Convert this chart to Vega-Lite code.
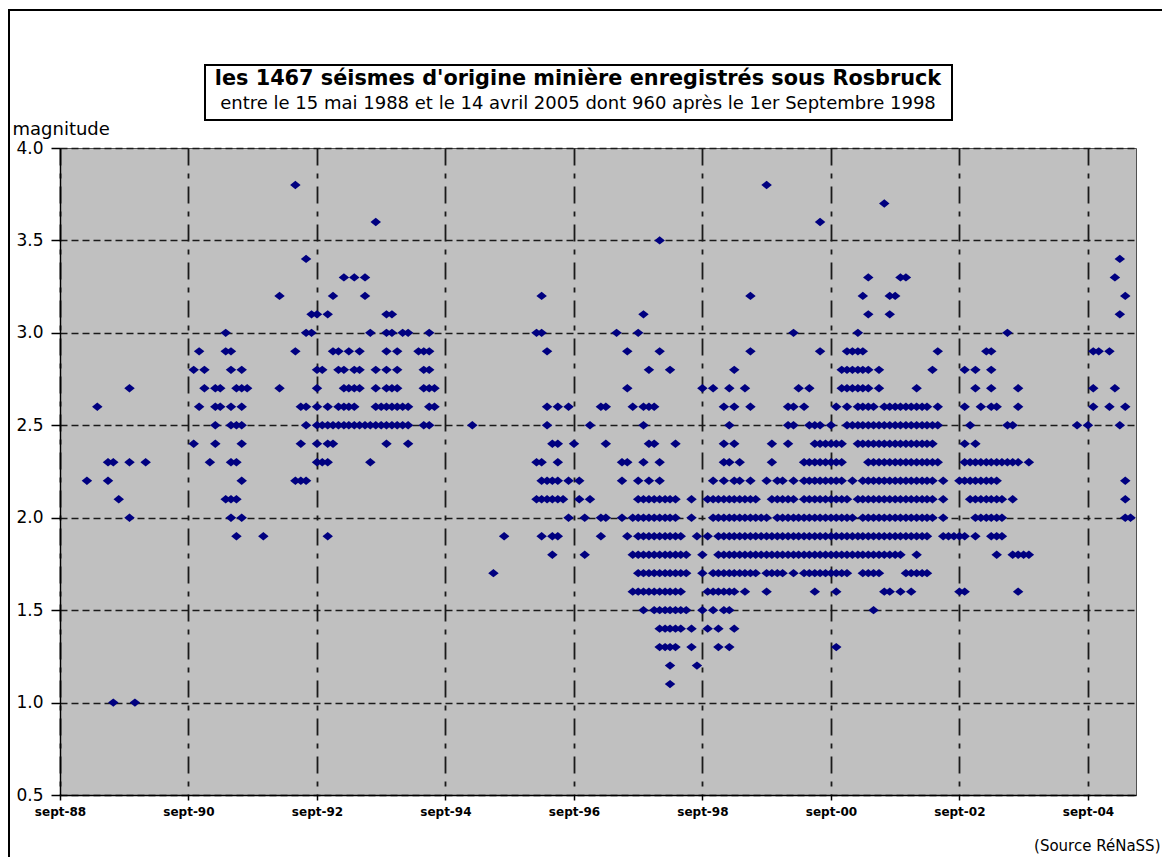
{
  "$schema": "https://vega.github.io/schema/vega-lite/v6.json",
  "width": 1076,
  "height": 647,
  "autosize": {"type": "none"},
  "padding": {"left": 60, "top": 148, "right": 26, "bottom": 62},
  "background": "white",
  "title": {
    "text": "les 1467  séismes d'origine minière  enregistrés sous Rosbruck",
    "subtitle": "entre le 15 mai 1988 et le 14 avril 2005   dont 960 après le 1er Septembre 1998",
    "anchor": "middle",
    "frame": "group",
    "orient": "top",
    "font": "DejaVu Sans",
    "fontSize": 20.8,
    "fontWeight": "bold",
    "color": "black",
    "subtitleFont": "DejaVu Sans",
    "subtitleFontSize": 18,
    "subtitleColor": "black",
    "subtitlePadding": 6,
    "offset": -105,
    "dx": -20
  },
  "data": {"values": [
{"date":"1992-05","mag":3.8},{"date":"1999-09","mag":3.8},
{"date":"2001-07","mag":3.7},
{"date":"1993-08","mag":3.6},{"date":"2000-07","mag":3.6},
{"date":"1998-01","mag":3.5},
{"date":"1992-07","mag":3.4},{"date":"2005-03","mag":3.4},
{"date":"1993-02","mag":3.3},{"date":"1993-04","mag":3.3},{"date":"1993-06","mag":3.3},{"date":"2001-04","mag":3.3},{"date":"2001-10","mag":3.3},{"date":"2001-11","mag":3.3},{"date":"2005-02","mag":3.3},
{"date":"1992-02","mag":3.2},{"date":"1992-12","mag":3.2},{"date":"1993-06","mag":3.2},{"date":"1996-03","mag":3.2},{"date":"1999-06","mag":3.2},{"date":"2001-03","mag":3.2},{"date":"2001-08","mag":3.2},{"date":"2001-09","mag":3.2},{"date":"2005-04","mag":3.2},
{"date":"1992-08","mag":3.1},{"date":"1992-09","mag":3.1},{"date":"1992-11","mag":3.1},{"date":"1993-10","mag":3.1},{"date":"1993-11","mag":3.1},{"date":"1997-10","mag":3.1},{"date":"2001-04","mag":3.1},{"date":"2001-08","mag":3.1},{"date":"2005-03","mag":3.1},
{"date":"1991-04","mag":3.0},{"date":"1992-07","mag":3.0},{"date":"1992-08","mag":3.0},{"date":"1993-07","mag":3.0},{"date":"1993-10","mag":3.0},{"date":"1993-11","mag":3.0},{"date":"1994-01","mag":3.0},{"date":"1994-02","mag":3.0},{"date":"1994-06","mag":3.0},{"date":"1996-02","mag":3.0},{"date":"1996-03","mag":3.0},{"date":"1997-05","mag":3.0},{"date":"1997-09","mag":3.0},{"date":"2000-02","mag":3.0},{"date":"2001-02","mag":3.0},{"date":"2003-06","mag":3.0},
{"date":"1990-11","mag":2.9},{"date":"1991-04","mag":2.9},{"date":"1991-05","mag":2.9},{"date":"1992-05","mag":2.9},{"date":"1992-12","mag":2.9},{"date":"1993-01","mag":2.9},{"date":"1993-03","mag":2.9},{"date":"1993-05","mag":2.9},{"date":"1993-10","mag":2.9},{"date":"1993-12","mag":2.9},{"date":"1994-04","mag":2.9},{"date":"1994-05","mag":2.9},{"date":"1994-06","mag":2.9},{"date":"1996-04","mag":2.9},{"date":"1997-07","mag":2.9},{"date":"1998-01","mag":2.9},{"date":"1999-06","mag":2.9},{"date":"2000-07","mag":2.9},{"date":"2000-12","mag":2.9},{"date":"2001-01","mag":2.9},{"date":"2001-02","mag":2.9},{"date":"2001-03","mag":2.9},{"date":"2002-05","mag":2.9},{"date":"2003-02","mag":2.9},{"date":"2003-03","mag":2.9},{"date":"2004-10","mag":2.9},{"date":"2004-11","mag":2.9},{"date":"2005-01","mag":2.9},
{"date":"1990-10","mag":2.8},{"date":"1990-12","mag":2.8},{"date":"1991-05","mag":2.8},{"date":"1991-07","mag":2.8},{"date":"1992-09","mag":2.8},{"date":"1992-10","mag":2.8},{"date":"1993-01","mag":2.8},{"date":"1993-02","mag":2.8},{"date":"1993-04","mag":2.8},{"date":"1993-05","mag":2.8},{"date":"1993-08","mag":2.8},{"date":"1993-10","mag":2.8},{"date":"1993-12","mag":2.8},{"date":"1994-05","mag":2.8},{"date":"1994-06","mag":2.8},{"date":"1997-11","mag":2.8},{"date":"1998-03","mag":2.8},{"date":"1999-03","mag":2.8},{"date":"2000-11","mag":2.8},{"date":"2000-12","mag":2.8},{"date":"2001-01","mag":2.8},{"date":"2001-02","mag":2.8},{"date":"2001-03","mag":2.8},{"date":"2001-04","mag":2.8},{"date":"2001-06","mag":2.8},{"date":"2002-04","mag":2.8},{"date":"2002-10","mag":2.8},{"date":"2002-12","mag":2.8},{"date":"2003-03","mag":2.8},
{"date":"1989-10","mag":2.7},{"date":"1990-12","mag":2.7},{"date":"1991-02","mag":2.7},{"date":"1991-03","mag":2.7},{"date":"1991-06","mag":2.7},{"date":"1991-07","mag":2.7},{"date":"1991-08","mag":2.7},{"date":"1992-02","mag":2.7},{"date":"1992-09","mag":2.7},{"date":"1993-02","mag":2.7},{"date":"1993-03","mag":2.7},{"date":"1993-04","mag":2.7},{"date":"1993-05","mag":2.7},{"date":"1993-08","mag":2.7},{"date":"1993-10","mag":2.7},{"date":"1993-11","mag":2.7},{"date":"1993-12","mag":2.7},{"date":"1994-05","mag":2.7},{"date":"1994-06","mag":2.7},{"date":"1994-07","mag":2.7},{"date":"1997-07","mag":2.7},{"date":"1998-09","mag":2.7},{"date":"1998-11","mag":2.7},{"date":"1999-02","mag":2.7},{"date":"1999-05","mag":2.7},{"date":"2000-03","mag":2.7},{"date":"2000-05","mag":2.7},{"date":"2000-11","mag":2.7},{"date":"2000-12","mag":2.7},{"date":"2001-01","mag":2.7},{"date":"2001-02","mag":2.7},{"date":"2001-03","mag":2.7},{"date":"2001-04","mag":2.7},{"date":"2001-06","mag":2.7},{"date":"2002-01","mag":2.7},{"date":"2002-12","mag":2.7},{"date":"2003-03","mag":2.7},{"date":"2003-08","mag":2.7},{"date":"2004-10","mag":2.7},{"date":"2005-02","mag":2.7},
{"date":"1989-04","mag":2.6},{"date":"1990-11","mag":2.6},{"date":"1991-02","mag":2.6},{"date":"1991-03","mag":2.6},{"date":"1991-05","mag":2.6},{"date":"1991-07","mag":2.6},{"date":"1992-06","mag":2.6},{"date":"1992-07","mag":2.6},{"date":"1992-09","mag":2.6},{"date":"1992-11","mag":2.6},{"date":"1993-01","mag":2.6},{"date":"1993-02","mag":2.6},{"date":"1993-03","mag":2.6},{"date":"1993-04","mag":2.6},{"date":"1993-08","mag":2.6},{"date":"1993-09","mag":2.6},{"date":"1993-10","mag":2.6},{"date":"1993-11","mag":2.6},{"date":"1993-12","mag":2.6},{"date":"1994-01","mag":2.6},{"date":"1994-02","mag":2.6},{"date":"1994-06","mag":2.6},{"date":"1994-07","mag":2.6},{"date":"1996-04","mag":2.6},{"date":"1996-06","mag":2.6},{"date":"1996-08","mag":2.6},{"date":"1997-02","mag":2.6},{"date":"1997-03","mag":2.6},{"date":"1997-08","mag":2.6},{"date":"1997-10","mag":2.6},{"date":"1997-11","mag":2.6},{"date":"1997-12","mag":2.6},{"date":"1999-01","mag":2.6},{"date":"1999-03","mag":2.6},{"date":"1999-06","mag":2.6},{"date":"2000-01","mag":2.6},{"date":"2000-02","mag":2.6},{"date":"2000-04","mag":2.6},{"date":"2000-10","mag":2.6},{"date":"2000-12","mag":2.6},{"date":"2001-02","mag":2.6},{"date":"2001-03","mag":2.6},{"date":"2001-04","mag":2.6},{"date":"2001-05","mag":2.6},{"date":"2001-07","mag":2.6},{"date":"2001-08","mag":2.6},{"date":"2001-09","mag":2.6},{"date":"2001-10","mag":2.6},{"date":"2001-11","mag":2.6},{"date":"2001-12","mag":2.6},{"date":"2002-01","mag":2.6},{"date":"2002-02","mag":2.6},{"date":"2002-03","mag":2.6},{"date":"2002-05","mag":2.6},{"date":"2002-10","mag":2.6},{"date":"2003-01","mag":2.6},{"date":"2003-03","mag":2.6},{"date":"2003-04","mag":2.6},{"date":"2003-08","mag":2.6},{"date":"2004-10","mag":2.6},{"date":"2005-01","mag":2.6},{"date":"2005-04","mag":2.6},
{"date":"1991-02","mag":2.5},{"date":"1991-05","mag":2.5},{"date":"1991-06","mag":2.5},{"date":"1991-07","mag":2.5},{"date":"1992-07","mag":2.5},{"date":"1992-09","mag":2.5},{"date":"1992-10","mag":2.5},{"date":"1992-11","mag":2.5},{"date":"1992-12","mag":2.5},{"date":"1993-01","mag":2.5},{"date":"1993-02","mag":2.5},{"date":"1993-03","mag":2.5},{"date":"1993-04","mag":2.5},{"date":"1993-05","mag":2.5},{"date":"1993-06","mag":2.5},{"date":"1993-07","mag":2.5},{"date":"1993-08","mag":2.5},{"date":"1993-09","mag":2.5},{"date":"1993-10","mag":2.5},{"date":"1993-11","mag":2.5},{"date":"1993-12","mag":2.5},{"date":"1994-01","mag":2.5},{"date":"1994-02","mag":2.5},{"date":"1994-05","mag":2.5},{"date":"1994-06","mag":2.5},{"date":"1995-02","mag":2.5},{"date":"1996-04","mag":2.5},{"date":"1996-12","mag":2.5},{"date":"1997-10","mag":2.5},{"date":"1999-02","mag":2.5},{"date":"2000-01","mag":2.5},{"date":"2000-02","mag":2.5},{"date":"2000-05","mag":2.5},{"date":"2000-06","mag":2.5},{"date":"2000-07","mag":2.5},{"date":"2000-09","mag":2.5},{"date":"2000-12","mag":2.5},{"date":"2001-01","mag":2.5},{"date":"2001-02","mag":2.5},{"date":"2001-03","mag":2.5},{"date":"2001-04","mag":2.5},{"date":"2001-05","mag":2.5},{"date":"2001-06","mag":2.5},{"date":"2001-07","mag":2.5},{"date":"2001-08","mag":2.5},{"date":"2001-09","mag":2.5},{"date":"2001-10","mag":2.5},{"date":"2001-11","mag":2.5},{"date":"2001-12","mag":2.5},{"date":"2002-01","mag":2.5},{"date":"2002-02","mag":2.5},{"date":"2002-03","mag":2.5},{"date":"2002-04","mag":2.5},{"date":"2002-05","mag":2.5},{"date":"2002-11","mag":2.5},{"date":"2003-06","mag":2.5},{"date":"2003-07","mag":2.5},{"date":"2004-07","mag":2.5},{"date":"2004-09","mag":2.5},{"date":"2005-03","mag":2.5},
{"date":"1990-10","mag":2.4},{"date":"1991-02","mag":2.4},{"date":"1991-07","mag":2.4},{"date":"1992-06","mag":2.4},{"date":"1992-09","mag":2.4},{"date":"1992-11","mag":2.4},{"date":"1992-12","mag":2.4},{"date":"1993-10","mag":2.4},{"date":"1994-02","mag":2.4},{"date":"1996-05","mag":2.4},{"date":"1996-06","mag":2.4},{"date":"1996-09","mag":2.4},{"date":"1997-03","mag":2.4},{"date":"1997-11","mag":2.4},{"date":"1997-12","mag":2.4},{"date":"1998-04","mag":2.4},{"date":"1999-01","mag":2.4},{"date":"1999-03","mag":2.4},{"date":"1999-10","mag":2.4},{"date":"2000-01","mag":2.4},{"date":"2000-06","mag":2.4},{"date":"2000-07","mag":2.4},{"date":"2000-08","mag":2.4},{"date":"2000-09","mag":2.4},{"date":"2000-10","mag":2.4},{"date":"2000-11","mag":2.4},{"date":"2001-02","mag":2.4},{"date":"2001-03","mag":2.4},{"date":"2001-04","mag":2.4},{"date":"2001-05","mag":2.4},{"date":"2001-06","mag":2.4},{"date":"2001-07","mag":2.4},{"date":"2001-08","mag":2.4},{"date":"2001-09","mag":2.4},{"date":"2001-10","mag":2.4},{"date":"2001-11","mag":2.4},{"date":"2001-12","mag":2.4},{"date":"2002-01","mag":2.4},{"date":"2002-02","mag":2.4},{"date":"2002-03","mag":2.4},{"date":"2002-04","mag":2.4},{"date":"2002-10","mag":2.4},{"date":"2002-12","mag":2.4},
{"date":"1989-06","mag":2.3},{"date":"1989-07","mag":2.3},{"date":"1989-10","mag":2.3},{"date":"1990-01","mag":2.3},{"date":"1991-01","mag":2.3},{"date":"1991-05","mag":2.3},{"date":"1991-06","mag":2.3},{"date":"1992-09","mag":2.3},{"date":"1992-10","mag":2.3},{"date":"1992-11","mag":2.3},{"date":"1993-07","mag":2.3},{"date":"1996-02","mag":2.3},{"date":"1996-03","mag":2.3},{"date":"1996-06","mag":2.3},{"date":"1997-06","mag":2.3},{"date":"1997-07","mag":2.3},{"date":"1997-10","mag":2.3},{"date":"1998-01","mag":2.3},{"date":"1999-01","mag":2.3},{"date":"1999-02","mag":2.3},{"date":"1999-04","mag":2.3},{"date":"1999-10","mag":2.3},{"date":"2000-04","mag":2.3},{"date":"2000-05","mag":2.3},{"date":"2000-06","mag":2.3},{"date":"2000-07","mag":2.3},{"date":"2000-08","mag":2.3},{"date":"2000-09","mag":2.3},{"date":"2000-10","mag":2.3},{"date":"2000-11","mag":2.3},{"date":"2001-04","mag":2.3},{"date":"2001-05","mag":2.3},{"date":"2001-06","mag":2.3},{"date":"2001-07","mag":2.3},{"date":"2001-08","mag":2.3},{"date":"2001-09","mag":2.3},{"date":"2001-10","mag":2.3},{"date":"2001-11","mag":2.3},{"date":"2001-12","mag":2.3},{"date":"2002-01","mag":2.3},{"date":"2002-02","mag":2.3},{"date":"2002-03","mag":2.3},{"date":"2002-04","mag":2.3},{"date":"2002-05","mag":2.3},{"date":"2002-10","mag":2.3},{"date":"2002-11","mag":2.3},{"date":"2002-12","mag":2.3},{"date":"2003-01","mag":2.3},{"date":"2003-02","mag":2.3},{"date":"2003-03","mag":2.3},{"date":"2003-04","mag":2.3},{"date":"2003-05","mag":2.3},{"date":"2003-06","mag":2.3},{"date":"2003-07","mag":2.3},{"date":"2003-08","mag":2.3},{"date":"2003-10","mag":2.3},
{"date":"1989-02","mag":2.2},{"date":"1989-06","mag":2.2},{"date":"1991-07","mag":2.2},{"date":"1992-05","mag":2.2},{"date":"1992-06","mag":2.2},{"date":"1992-07","mag":2.2},{"date":"1996-03","mag":2.2},{"date":"1996-04","mag":2.2},{"date":"1996-05","mag":2.2},{"date":"1996-06","mag":2.2},{"date":"1996-08","mag":2.2},{"date":"1996-10","mag":2.2},{"date":"1997-06","mag":2.2},{"date":"1997-09","mag":2.2},{"date":"1997-11","mag":2.2},{"date":"1998-01","mag":2.2},{"date":"1998-11","mag":2.2},{"date":"1999-01","mag":2.2},{"date":"1999-03","mag":2.2},{"date":"1999-04","mag":2.2},{"date":"1999-06","mag":2.2},{"date":"1999-09","mag":2.2},{"date":"1999-11","mag":2.2},{"date":"1999-12","mag":2.2},{"date":"2000-02","mag":2.2},{"date":"2000-04","mag":2.2},{"date":"2000-05","mag":2.2},{"date":"2000-06","mag":2.2},{"date":"2000-07","mag":2.2},{"date":"2000-08","mag":2.2},{"date":"2000-09","mag":2.2},{"date":"2000-10","mag":2.2},{"date":"2000-11","mag":2.2},{"date":"2001-01","mag":2.2},{"date":"2001-03","mag":2.2},{"date":"2001-04","mag":2.2},{"date":"2001-05","mag":2.2},{"date":"2001-06","mag":2.2},{"date":"2001-07","mag":2.2},{"date":"2001-08","mag":2.2},{"date":"2001-09","mag":2.2},{"date":"2001-10","mag":2.2},{"date":"2001-11","mag":2.2},{"date":"2001-12","mag":2.2},{"date":"2002-01","mag":2.2},{"date":"2002-02","mag":2.2},{"date":"2002-03","mag":2.2},{"date":"2002-04","mag":2.2},{"date":"2002-06","mag":2.2},{"date":"2002-09","mag":2.2},{"date":"2002-10","mag":2.2},{"date":"2002-11","mag":2.2},{"date":"2002-12","mag":2.2},{"date":"2003-01","mag":2.2},{"date":"2003-02","mag":2.2},{"date":"2003-03","mag":2.2},{"date":"2003-04","mag":2.2},{"date":"2005-04","mag":2.2},
{"date":"1989-08","mag":2.1},{"date":"1991-04","mag":2.1},{"date":"1991-05","mag":2.1},{"date":"1991-06","mag":2.1},{"date":"1996-02","mag":2.1},{"date":"1996-03","mag":2.1},{"date":"1996-04","mag":2.1},{"date":"1996-05","mag":2.1},{"date":"1996-06","mag":2.1},{"date":"1996-07","mag":2.1},{"date":"1996-10","mag":2.1},{"date":"1996-12","mag":2.1},{"date":"1997-09","mag":2.1},{"date":"1997-10","mag":2.1},{"date":"1997-11","mag":2.1},{"date":"1997-12","mag":2.1},{"date":"1998-01","mag":2.1},{"date":"1998-02","mag":2.1},{"date":"1998-03","mag":2.1},{"date":"1998-04","mag":2.1},{"date":"1998-07","mag":2.1},{"date":"1998-10","mag":2.1},{"date":"1998-11","mag":2.1},{"date":"1998-12","mag":2.1},{"date":"1999-01","mag":2.1},{"date":"1999-02","mag":2.1},{"date":"1999-03","mag":2.1},{"date":"1999-04","mag":2.1},{"date":"1999-05","mag":2.1},{"date":"1999-06","mag":2.1},{"date":"1999-07","mag":2.1},{"date":"1999-10","mag":2.1},{"date":"1999-11","mag":2.1},{"date":"1999-12","mag":2.1},{"date":"2000-01","mag":2.1},{"date":"2000-02","mag":2.1},{"date":"2000-04","mag":2.1},{"date":"2000-05","mag":2.1},{"date":"2000-06","mag":2.1},{"date":"2000-07","mag":2.1},{"date":"2000-08","mag":2.1},{"date":"2000-09","mag":2.1},{"date":"2000-10","mag":2.1},{"date":"2000-11","mag":2.1},{"date":"2000-12","mag":2.1},{"date":"2001-02","mag":2.1},{"date":"2001-03","mag":2.1},{"date":"2001-04","mag":2.1},{"date":"2001-05","mag":2.1},{"date":"2001-06","mag":2.1},{"date":"2001-07","mag":2.1},{"date":"2001-08","mag":2.1},{"date":"2001-09","mag":2.1},{"date":"2001-10","mag":2.1},{"date":"2001-11","mag":2.1},{"date":"2001-12","mag":2.1},{"date":"2002-01","mag":2.1},{"date":"2002-02","mag":2.1},{"date":"2002-03","mag":2.1},{"date":"2002-04","mag":2.1},{"date":"2002-06","mag":2.1},{"date":"2002-11","mag":2.1},{"date":"2002-12","mag":2.1},{"date":"2003-01","mag":2.1},{"date":"2003-02","mag":2.1},{"date":"2003-03","mag":2.1},{"date":"2003-04","mag":2.1},{"date":"2003-05","mag":2.1},{"date":"2003-07","mag":2.1},{"date":"2005-04","mag":2.1},
{"date":"1989-10","mag":2.0},{"date":"1991-05","mag":2.0},{"date":"1991-07","mag":2.0},{"date":"1996-08","mag":2.0},{"date":"1996-11","mag":2.0},{"date":"1997-02","mag":2.0},{"date":"1997-03","mag":2.0},{"date":"1997-06","mag":2.0},{"date":"1997-08","mag":2.0},{"date":"1997-09","mag":2.0},{"date":"1997-10","mag":2.0},{"date":"1997-11","mag":2.0},{"date":"1997-12","mag":2.0},{"date":"1998-01","mag":2.0},{"date":"1998-02","mag":2.0},{"date":"1998-03","mag":2.0},{"date":"1998-04","mag":2.0},{"date":"1998-07","mag":2.0},{"date":"1998-11","mag":2.0},{"date":"1998-12","mag":2.0},{"date":"1999-01","mag":2.0},{"date":"1999-02","mag":2.0},{"date":"1999-03","mag":2.0},{"date":"1999-04","mag":2.0},{"date":"1999-05","mag":2.0},{"date":"1999-06","mag":2.0},{"date":"1999-07","mag":2.0},{"date":"1999-08","mag":2.0},{"date":"1999-09","mag":2.0},{"date":"1999-11","mag":2.0},{"date":"1999-12","mag":2.0},{"date":"2000-01","mag":2.0},{"date":"2000-02","mag":2.0},{"date":"2000-03","mag":2.0},{"date":"2000-04","mag":2.0},{"date":"2000-05","mag":2.0},{"date":"2000-06","mag":2.0},{"date":"2000-07","mag":2.0},{"date":"2000-08","mag":2.0},{"date":"2000-09","mag":2.0},{"date":"2000-10","mag":2.0},{"date":"2000-11","mag":2.0},{"date":"2000-12","mag":2.0},{"date":"2001-01","mag":2.0},{"date":"2001-03","mag":2.0},{"date":"2001-04","mag":2.0},{"date":"2001-05","mag":2.0},{"date":"2001-06","mag":2.0},{"date":"2001-07","mag":2.0},{"date":"2001-08","mag":2.0},{"date":"2001-09","mag":2.0},{"date":"2001-10","mag":2.0},{"date":"2001-11","mag":2.0},{"date":"2001-12","mag":2.0},{"date":"2002-01","mag":2.0},{"date":"2002-02","mag":2.0},{"date":"2002-03","mag":2.0},{"date":"2002-04","mag":2.0},{"date":"2002-06","mag":2.0},{"date":"2002-12","mag":2.0},{"date":"2003-01","mag":2.0},{"date":"2003-02","mag":2.0},{"date":"2003-03","mag":2.0},{"date":"2003-04","mag":2.0},{"date":"2003-05","mag":2.0},{"date":"2005-04","mag":2.0},{"date":"2005-05","mag":2.0},
{"date":"1991-06","mag":1.9},{"date":"1991-11","mag":1.9},{"date":"1992-11","mag":1.9},{"date":"1995-08","mag":1.9},{"date":"1996-03","mag":1.9},{"date":"1996-05","mag":1.9},{"date":"1996-06","mag":1.9},{"date":"1997-02","mag":1.9},{"date":"1997-07","mag":1.9},{"date":"1997-09","mag":1.9},{"date":"1997-10","mag":1.9},{"date":"1997-11","mag":1.9},{"date":"1997-12","mag":1.9},{"date":"1998-01","mag":1.9},{"date":"1998-02","mag":1.9},{"date":"1998-03","mag":1.9},{"date":"1998-04","mag":1.9},{"date":"1998-05","mag":1.9},{"date":"1998-08","mag":1.9},{"date":"1998-10","mag":1.9},{"date":"1998-12","mag":1.9},{"date":"1999-01","mag":1.9},{"date":"1999-02","mag":1.9},{"date":"1999-03","mag":1.9},{"date":"1999-04","mag":1.9},{"date":"1999-05","mag":1.9},{"date":"1999-06","mag":1.9},{"date":"1999-07","mag":1.9},{"date":"1999-08","mag":1.9},{"date":"1999-09","mag":1.9},{"date":"1999-10","mag":1.9},{"date":"1999-11","mag":1.9},{"date":"1999-12","mag":1.9},{"date":"2000-01","mag":1.9},{"date":"2000-02","mag":1.9},{"date":"2000-03","mag":1.9},{"date":"2000-04","mag":1.9},{"date":"2000-05","mag":1.9},{"date":"2000-06","mag":1.9},{"date":"2000-07","mag":1.9},{"date":"2000-08","mag":1.9},{"date":"2000-09","mag":1.9},{"date":"2000-10","mag":1.9},{"date":"2000-11","mag":1.9},{"date":"2000-12","mag":1.9},{"date":"2001-01","mag":1.9},{"date":"2001-02","mag":1.9},{"date":"2001-03","mag":1.9},{"date":"2001-04","mag":1.9},{"date":"2001-05","mag":1.9},{"date":"2001-06","mag":1.9},{"date":"2001-07","mag":1.9},{"date":"2001-08","mag":1.9},{"date":"2001-09","mag":1.9},{"date":"2001-10","mag":1.9},{"date":"2001-11","mag":1.9},{"date":"2001-12","mag":1.9},{"date":"2002-01","mag":1.9},{"date":"2002-02","mag":1.9},{"date":"2002-03","mag":1.9},{"date":"2002-06","mag":1.9},{"date":"2002-07","mag":1.9},{"date":"2002-08","mag":1.9},{"date":"2002-09","mag":1.9},{"date":"2002-10","mag":1.9},{"date":"2002-12","mag":1.9},{"date":"2003-03","mag":1.9},{"date":"2003-04","mag":1.9},{"date":"2003-05","mag":1.9},
{"date":"1996-05","mag":1.8},{"date":"1996-11","mag":1.8},{"date":"1997-08","mag":1.8},{"date":"1997-09","mag":1.8},{"date":"1997-10","mag":1.8},{"date":"1997-11","mag":1.8},{"date":"1997-12","mag":1.8},{"date":"1998-01","mag":1.8},{"date":"1998-02","mag":1.8},{"date":"1998-03","mag":1.8},{"date":"1998-04","mag":1.8},{"date":"1998-05","mag":1.8},{"date":"1998-06","mag":1.8},{"date":"1998-09","mag":1.8},{"date":"1998-12","mag":1.8},{"date":"1999-01","mag":1.8},{"date":"1999-02","mag":1.8},{"date":"1999-03","mag":1.8},{"date":"1999-04","mag":1.8},{"date":"1999-05","mag":1.8},{"date":"1999-06","mag":1.8},{"date":"1999-07","mag":1.8},{"date":"1999-08","mag":1.8},{"date":"1999-09","mag":1.8},{"date":"1999-10","mag":1.8},{"date":"1999-11","mag":1.8},{"date":"1999-12","mag":1.8},{"date":"2000-01","mag":1.8},{"date":"2000-02","mag":1.8},{"date":"2000-03","mag":1.8},{"date":"2000-04","mag":1.8},{"date":"2000-05","mag":1.8},{"date":"2000-06","mag":1.8},{"date":"2000-07","mag":1.8},{"date":"2000-08","mag":1.8},{"date":"2000-09","mag":1.8},{"date":"2000-10","mag":1.8},{"date":"2000-11","mag":1.8},{"date":"2000-12","mag":1.8},{"date":"2001-01","mag":1.8},{"date":"2001-02","mag":1.8},{"date":"2001-03","mag":1.8},{"date":"2001-04","mag":1.8},{"date":"2001-05","mag":1.8},{"date":"2001-06","mag":1.8},{"date":"2001-07","mag":1.8},{"date":"2001-08","mag":1.8},{"date":"2001-09","mag":1.8},{"date":"2001-10","mag":1.8},{"date":"2002-01","mag":1.8},{"date":"2003-04","mag":1.8},{"date":"2003-07","mag":1.8},{"date":"2003-08","mag":1.8},{"date":"2003-09","mag":1.8},{"date":"2003-10","mag":1.8},
{"date":"1995-06","mag":1.7},{"date":"1997-09","mag":1.7},{"date":"1997-10","mag":1.7},{"date":"1997-11","mag":1.7},{"date":"1997-12","mag":1.7},{"date":"1998-01","mag":1.7},{"date":"1998-02","mag":1.7},{"date":"1998-03","mag":1.7},{"date":"1998-04","mag":1.7},{"date":"1998-05","mag":1.7},{"date":"1998-06","mag":1.7},{"date":"1998-09","mag":1.7},{"date":"1998-11","mag":1.7},{"date":"1998-12","mag":1.7},{"date":"1999-01","mag":1.7},{"date":"1999-02","mag":1.7},{"date":"1999-03","mag":1.7},{"date":"1999-04","mag":1.7},{"date":"1999-05","mag":1.7},{"date":"1999-06","mag":1.7},{"date":"1999-07","mag":1.7},{"date":"1999-09","mag":1.7},{"date":"1999-10","mag":1.7},{"date":"1999-11","mag":1.7},{"date":"1999-12","mag":1.7},{"date":"2000-02","mag":1.7},{"date":"2000-04","mag":1.7},{"date":"2000-05","mag":1.7},{"date":"2000-06","mag":1.7},{"date":"2000-07","mag":1.7},{"date":"2000-08","mag":1.7},{"date":"2000-09","mag":1.7},{"date":"2000-10","mag":1.7},{"date":"2000-11","mag":1.7},{"date":"2000-12","mag":1.7},{"date":"2001-03","mag":1.7},{"date":"2001-04","mag":1.7},{"date":"2001-05","mag":1.7},{"date":"2001-06","mag":1.7},{"date":"2001-11","mag":1.7},{"date":"2001-12","mag":1.7},{"date":"2002-01","mag":1.7},{"date":"2002-02","mag":1.7},{"date":"2002-03","mag":1.7},
{"date":"1997-08","mag":1.6},{"date":"1997-09","mag":1.6},{"date":"1997-10","mag":1.6},{"date":"1997-11","mag":1.6},{"date":"1997-12","mag":1.6},{"date":"1998-01","mag":1.6},{"date":"1998-02","mag":1.6},{"date":"1998-03","mag":1.6},{"date":"1998-04","mag":1.6},{"date":"1998-05","mag":1.6},{"date":"1998-10","mag":1.6},{"date":"1998-11","mag":1.6},{"date":"1998-12","mag":1.6},{"date":"1999-01","mag":1.6},{"date":"1999-02","mag":1.6},{"date":"1999-03","mag":1.6},{"date":"1999-05","mag":1.6},{"date":"1999-09","mag":1.6},{"date":"2000-06","mag":1.6},{"date":"2000-10","mag":1.6},{"date":"2001-07","mag":1.6},{"date":"2001-08","mag":1.6},{"date":"2001-10","mag":1.6},{"date":"2001-12","mag":1.6},{"date":"2002-09","mag":1.6},{"date":"2002-10","mag":1.6},{"date":"2003-08","mag":1.6},
{"date":"1997-10","mag":1.5},{"date":"1997-12","mag":1.5},{"date":"1998-01","mag":1.5},{"date":"1998-02","mag":1.5},{"date":"1998-03","mag":1.5},{"date":"1998-04","mag":1.5},{"date":"1998-05","mag":1.5},{"date":"1998-06","mag":1.5},{"date":"1998-09","mag":1.5},{"date":"1998-11","mag":1.5},{"date":"1999-01","mag":1.5},{"date":"1999-02","mag":1.5},{"date":"2001-05","mag":1.5},
{"date":"1998-01","mag":1.4},{"date":"1998-02","mag":1.4},{"date":"1998-03","mag":1.4},{"date":"1998-04","mag":1.4},{"date":"1998-05","mag":1.4},{"date":"1998-07","mag":1.4},{"date":"1998-10","mag":1.4},{"date":"1998-12","mag":1.4},{"date":"1999-03","mag":1.4},
{"date":"1998-01","mag":1.3},{"date":"1998-02","mag":1.3},{"date":"1998-03","mag":1.3},{"date":"1998-04","mag":1.3},{"date":"1998-07","mag":1.3},{"date":"1998-12","mag":1.3},{"date":"1999-02","mag":1.3},{"date":"2000-10","mag":1.3},
{"date":"1998-03","mag":1.2},{"date":"1998-08","mag":1.2},
{"date":"1998-03","mag":1.1},
{"date":"1989-07","mag":1.0},{"date":"1989-11","mag":1.0}
  ]},
  "layer": [
    {
      "mark": {"type": "point", "filled": true, "shape": "M-1,0L0,-0.8L1,0L0,0.8Z", "size": 110, "color": "#000080", "opacity": 1},
      "encoding": {
        "x": {
          "field": "date", "type": "temporal",
          "scale": {"domain": [{"year": 1988, "month": 9, "date": 1}, {"year": 2005, "month": 6, "date": 1}]},
          "axis": {
            "values": [{"year": 1988, "month": 9, "date": 1}, {"year": 1990, "month": 9, "date": 1}, {"year": 1992, "month": 9, "date": 1}, {"year": 1994, "month": 9, "date": 1}, {"year": 1996, "month": 9, "date": 1}, {"year": 1998, "month": 9, "date": 1}, {"year": 2000, "month": 9, "date": 1}, {"year": 2002, "month": 9, "date": 1}, {"year": 2004, "month": 9, "date": 1}],
            "labelExpr": "'sept-' + timeFormat(datum.value, '%y')",
            "labelFlush": false, "labelOverlap": false,
            "title": "(Source RéNaSS)",
            "titleX": 1100, "titleY": 50, "titleAlign": "right", "titleBaseline": "middle", "titleAnchor": null,
            "titleFont": "DejaVu Sans", "titleFontSize": 15, "titleFontWeight": "normal", "titleColor": "black",
            "labelFont": "DejaVu Sans", "labelFontSize": 12, "labelFontWeight": "bold", "labelColor": "black", "labelPadding": 6,
            "domainColor": "black", "domainWidth": 1.5, "tickColor": "black", "tickSize": 5, "tickWidth": 1.5,
            "grid": true, "gridColor": "#1a1a1a", "gridDash": [17, 8, 5, 8], "gridWidth": 1.8, "gridOpacity": 1
          }
        },
        "y": {
          "field": "mag", "type": "quantitative",
          "scale": {"domain": [0.5, 4.0], "nice": false, "zero": false},
          "axis": {
            "values": [0.5, 1, 1.5, 2, 2.5, 3, 3.5, 4], "format": ".1f",
            "labelFlush": false, "labelOverlap": false,
            "title": "magnitude", "titleAngle": 0, "titleAlign": "left", "titleBaseline": "alphabetic", "titleX": -48, "titleY": -14,
            "titleFont": "DejaVu Sans", "titleFontSize": 18, "titleFontWeight": "normal", "titleColor": "black",
            "labelFont": "DejaVu Sans", "labelFontSize": 17, "labelColor": "black", "labelPadding": 8,
            "domainColor": "black", "domainWidth": 1.5, "tickColor": "black", "tickSize": 9, "tickWidth": 1.5,
            "grid": true, "gridColor": "#1a1a1a", "gridDash": [7, 4], "gridWidth": 1.4, "gridOpacity": 1
          }
        }
      }
    },
    {
      "mark": {"type": "rect", "filled": false, "stroke": "black", "strokeWidth": 1.5},
      "encoding": {
        "x": {"datum": {"year": 1990, "month": 12, "date": 4}, "type": "temporal"},
        "x2": {"datum": {"year": 2002, "month": 7, "date": 21}},
        "y": {"datum": 4.449, "type": "quantitative"},
        "y2": {"datum": 4.151}
      }
    },
    {
      "mark": {"type": "rect", "filled": false, "stroke": "black", "strokeWidth": 1.2},
      "encoding": {
        "x": {"datum": {"year": 1987, "month": 11, "date": 15}, "type": "temporal"},
        "x2": {"datum": {"year": 2006, "month": 1, "date": 1}},
        "y": {"datum": 4.746, "type": "quantitative"},
        "y2": {"datum": 0.0}
      }
    }
  ],
  "config": {
    "view": {"fill": "#C0C0C0", "stroke": "#505050", "strokeWidth": 1},
    "font": "DejaVu Sans"
  }
}
